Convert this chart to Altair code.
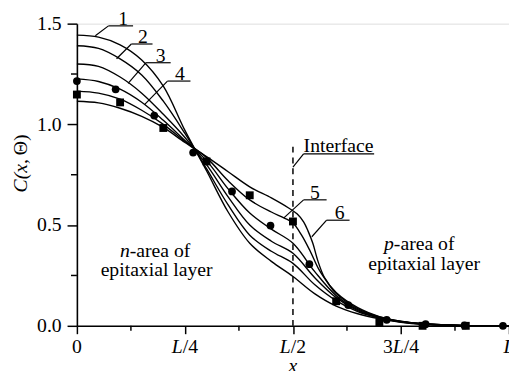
import altair as alt
import pandas as pd

# ---------------- data ----------------
grid = [0, 0.05, 0.1, 0.15, 0.2, 0.25, 0.3, 0.35, 0.4, 0.45, 0.5, 0.55, 0.6,
        0.65, 0.7, 0.75, 0.8, 0.9, 1.0]
c1_y = [1.443, 1.433, 1.395, 1.32, 1.19, 0.97, 0.77, 0.565, 0.41, 0.32, 0.245,
        0.16, 0.098, 0.06, 0.035, 0.018, 0.008, 0.001, 0.0]
c2_y = [1.39, 1.377, 1.325, 1.245, 1.115, 0.955, 0.78, 0.60, 0.45, 0.37, 0.31,
        0.205, 0.125, 0.07, 0.038, 0.019, 0.009, 0.001, 0.0]
c3_y = [1.30, 1.288, 1.235, 1.155, 1.05, 0.935, 0.80, 0.64, 0.50, 0.42, 0.36,
        0.24, 0.14, 0.075, 0.04, 0.02, 0.009, 0.001, 0.0]
c4_y = [1.226, 1.213, 1.175, 1.11, 1.02, 0.92, 0.82, 0.68, 0.56, 0.48, 0.41,
        0.27, 0.15, 0.08, 0.042, 0.021, 0.01, 0.001, 0.0]
c5_x = [0, 0.05, 0.1, 0.15, 0.2, 0.25, 0.3, 0.35, 0.4, 0.45, 0.48, 0.5, 0.52,
        0.54, 0.56, 0.58, 0.6, 0.65, 0.7, 0.75, 0.8, 0.9, 1.0]
c5_y = [1.165, 1.155, 1.125, 1.07, 1.0, 0.915, 0.835, 0.72, 0.625, 0.565, 0.535,
        0.51, 0.45, 0.37, 0.28, 0.215, 0.16, 0.085, 0.044, 0.022, 0.01, 0.001, 0.0]
c6_x = [0, 0.05, 0.1, 0.15, 0.2, 0.25, 0.3, 0.35, 0.4, 0.45, 0.49, 0.51, 0.525,
        0.535, 0.546, 0.558, 0.573, 0.6, 0.65, 0.7, 0.75, 0.8, 0.9, 1.0]
c6_y = [1.115, 1.107, 1.08, 1.04, 0.985, 0.91, 0.84, 0.765, 0.69, 0.635, 0.585,
        0.555, 0.515, 0.47, 0.41, 0.32, 0.24, 0.165, 0.09, 0.046, 0.023, 0.01,
        0.001, 0.0]

circle_x = [0, 0.0897, 0.179, 0.269, 0.359, 0.448, 0.538, 0.628, 0.717, 0.807,
            0.897, 0.986]
circle_y = [1.215, 1.174, 1.044, 0.86, 0.667, 0.498, 0.306, 0.103, 0.03, 0.008,
            0.002, 0.0]
square_x = [0, 0.1, 0.2, 0.3, 0.4, 0.5, 0.6, 0.7, 0.8, 0.9]
square_y = [1.148, 1.109, 0.982, 0.816, 0.648, 0.518, 0.122, 0.017, 0.0, 0.0]

# curve labels (number, underline, pointer)
label_text = ["1", "2", "3", "4", "5", "6"]
label_x = [0.107, 0.153, 0.194, 0.2385, 0.551, 0.608]
label_y = [1.494, 1.404, 1.311, 1.220, 0.630, 0.529]
ul_x1 = [0.073, 0.126, 0.160, 0.2096, 0.5246, 0.5779]
ul_x2 = [0.130, 0.175, 0.217, 0.2628, 0.5779, 0.631]
ul_y = [1.489, 1.399, 1.306, 1.215, 0.6254, 0.5243]
ptr_x = [0.0426, 0.0918, 0.1185, 0.1565, 0.479, 0.5437]
ptr_y = [1.440, 1.3256, 1.2034, 1.0979, 0.536, 0.4422]

interface_pos = 0.5
interface_top = 0.895

x_tick_values = [0, 0.25, 0.5, 0.75, 1.0]
x_tick_labels = ["0", "L/4", "L/2", "3L/4", "L"]
x_minor = [0.125, 0.375, 0.625, 0.875]
y_tick_values = [0, 0.5, 1.0, 1.5]
y_minor = [0.25, 0.75, 1.25]

# ---------------- layout ----------------
W, H = 439, 307
FONT = "Liberation Serif"
FS = 20

xscale = alt.Scale(domain=[0, 1], nice=False, zero=False)
yscale = alt.Scale(domain=[0, 1.5], nice=False, zero=False)
x_axis = alt.Axis(values=x_tick_values, labels=False, title=None, tickSize=8,
                  tickWidth=1.5, domainWidth=1.6, domainColor="black",
                  tickColor="black", grid=False)
y_axis = alt.Axis(values=y_tick_values, format=".1f", title=None, tickSize=10,
                  tickWidth=1.5, domainWidth=1.6, domainColor="black",
                  tickColor="black", labelFont=FONT, labelFontSize=FS,
                  labelColor="black", labelPadding=6, grid=False)


def X(f="x"):
    return alt.X(f"{f}:Q", scale=xscale, axis=x_axis)


def Y(f="y"):
    return alt.Y(f"{f}:Q", scale=yscale, axis=y_axis)


rows = []
for name, xs, ys in [("1", grid, c1_y), ("2", grid, c2_y), ("3", grid, c3_y),
                     ("4", grid, c4_y), ("5", c5_x, c5_y), ("6", c6_x, c6_y)]:
    for a, b in zip(xs, ys):
        rows.append({"curve": name, "x": a, "y": b})
curve_df = pd.DataFrame(rows)

lines = alt.Chart(curve_df).mark_line(color="black", strokeWidth=1.4,
                                      interpolate="catmull-rom").encode(
    x=X(), y=Y(), detail="curve:N")

circles = alt.Chart(pd.DataFrame({"x": circle_x, "y": circle_y})).mark_point(
    shape="circle", filled=True, size=62, color="black", opacity=1).encode(x=X(), y=Y())
squares = alt.Chart(pd.DataFrame({"x": square_x, "y": square_y})).mark_point(
    shape="square", filled=True, size=64, color="black", opacity=1).encode(x=X(), y=Y())

xminor = alt.Chart(pd.DataFrame({"x": x_minor})).mark_rule(
    color="black", strokeWidth=1.5).encode(x=X(), y=alt.value(H), y2=alt.value(H + 5))
yminor = alt.Chart(pd.DataFrame({"y": y_minor})).mark_rule(
    color="black", strokeWidth=1.5).encode(y=Y(), x=alt.value(-6), x2=alt.value(0))

dash = alt.Chart(pd.DataFrame({"x": [interface_pos], "y": [0], "y2": [interface_top]})).mark_rule(
    color="black", strokeWidth=1.5, strokeDash=[6, 5]).encode(
    x=X(), y=Y(), y2="y2:Q")

ann = pd.DataFrame({"t": label_text, "x": label_x, "y": label_y, "x1": ul_x1,
                    "x2": ul_x2, "uy": ul_y, "px": ptr_x, "py": ptr_y})
nums = alt.Chart(ann).mark_text(font=FONT, fontSize=FS, color="black",
                                align="center", baseline="alphabetic").encode(
    x=X(), y=Y(), text="t:N")
underl = alt.Chart(ann).mark_rule(color="black", strokeWidth=1.2).encode(
    x=X("x1"), x2="x2:Q", y=Y("uy"))
pointers = alt.Chart(ann).mark_rule(color="black", strokeWidth=1.2).encode(
    x=X("x1"), y=Y("uy"), x2="px:Q", y2="py:Q")

iface = pd.DataFrame({"t": ["Interface"], "x": [0.5246], "y": [0.8624],
                      "x2": [0.6879], "uy": [0.8536], "px": [interface_pos],
                      "py": [0.788]})
iface_text = alt.Chart(iface).mark_text(font=FONT, fontSize=FS, color="black",
                                        align="left", baseline="alphabetic").encode(
    x=X(), y=Y(), text="t:N")
iface_ul = alt.Chart(iface).mark_rule(color="black", strokeWidth=1.2).encode(
    x=X(), x2="x2:Q", y=Y("uy"))
iface_ptr = alt.Chart(iface).mark_rule(color="black", strokeWidth=1.2).encode(
    x=X(), y=Y("uy"), x2="px:Q", y2="py:Q")

region_it = pd.DataFrame({"t": ["n", "p"], "x": [0.0995, 0.7107], "y": [0.3728, 0.4055]})
region_rest = pd.DataFrame({"t": ["-area of", "-area of"], "x": [0.1223, 0.7335],
                            "y": [0.3728, 0.4055]})
region_c = pd.DataFrame({"t": ["epitaxial layer", "epitaxial layer"],
                         "x": [0.1845, 0.8036], "y": [0.2751, 0.3078]})
r1 = alt.Chart(region_it).mark_text(font=FONT, fontSize=FS, fontStyle="italic",
                                    color="black", align="left").encode(x=X(), y=Y(), text="t:N")
r2 = alt.Chart(region_rest).mark_text(font=FONT, fontSize=FS, color="black",
                                      align="left").encode(x=X(), y=Y(), text="t:N")
r3 = alt.Chart(region_c).mark_text(font=FONT, fontSize=FS, color="black",
                                   align="center").encode(x=X(), y=Y(), text="t:N")

# x tick labels with italic L, built from runs
CW = {"0": 0.5, "2": 0.5, "3": 0.5, "4": 0.5, "/": 0.278, "L": 0.556}
tick_layers = []
for pos, lab in zip(x_tick_values, x_tick_labels):
    runs = []
    for ch in lab:
        it = ch == "L"
        if runs and runs[-1][1] == it:
            runs[-1][0] += ch
        else:
            runs.append([ch, it])
    total = sum(CW[c] for c in lab) * FS
    start = -total / 2
    for txt, it in runs:
        tick_layers.append(
            alt.Chart(pd.DataFrame({"x": [pos], "t": [txt]})).mark_text(
                font=FONT, fontSize=FS, fontStyle="italic" if it else "normal",
                color="black", align="left", baseline="top", dx=start).encode(
                x=X(), y=alt.value(H + 12), text="t:N"))
        start += sum(CW[c] for c in txt) * FS

xtitle = alt.Chart(pd.DataFrame({"x": [0.5], "t": ["x"]})).mark_text(
    font=FONT, fontSize=FS, fontStyle="italic", color="black", align="center",
    baseline="alphabetic").encode(x=X(), y=alt.value(H + 47), text="t:N")

# y title "C(x, Θ)" rotated
w1 = (0.667 + 0.333 + 0.444 + 0.25) * FS
w2 = (0.722 + 0.333) * FS
tot = w1 + 4 + w2
yt1 = alt.Chart(pd.DataFrame({"t": ["C(x,"]})).mark_text(
    font=FONT, fontSize=FS, fontStyle="italic", color="black", angle=270,
    align="left", baseline="middle", dx=-tot / 2).encode(
    x=alt.value(-56.5), y=alt.value(142), text="t:N")
yt2 = alt.Chart(pd.DataFrame({"t": ["Θ)"]})).mark_text(
    font=FONT, fontSize=FS, color="black", angle=270,
    align="left", baseline="middle", dx=-tot / 2 + w1 + 4).encode(
    x=alt.value(-56.5), y=alt.value(142), text="t:N")

chart = alt.layer(
    lines, dash, circles, squares, xminor, yminor, nums, underl, pointers,
    iface_text, iface_ul, iface_ptr, r1, r2, r3, xtitle, yt1, yt2, *tick_layers
).properties(
    width=W, height=H,
    autosize=alt.AutoSizeParams(type="none"),
    padding={"left": 70, "top": 13, "right": 0, "bottom": 43},
).configure_view(stroke=None).configure(background="white")

chart.save("out.html", embed_options={"renderer": "svg", "actions": False})
